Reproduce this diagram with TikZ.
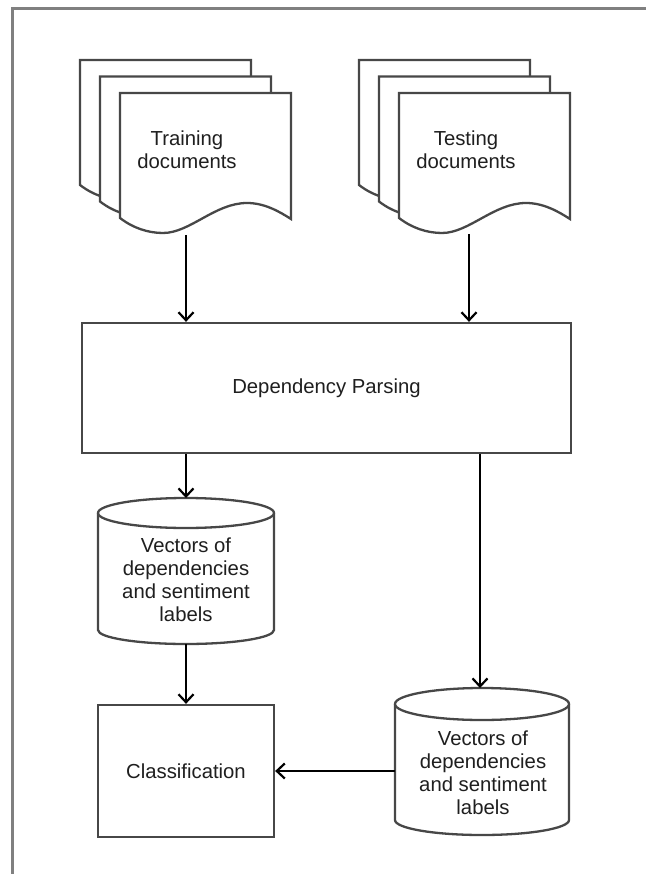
\documentclass[tikz,border=0pt]{standalone}
\usepackage{fontspec}
\setmainfont{Liberation Sans}
\usetikzlibrary{arrows.meta}
\begin{document}
\begin{tikzpicture}[x=1pt,y=-1pt,
  shapeline/.style={draw=black!72, line width=2.3pt, fill=white},
  arr/.style={draw=black, line width=2.2pt, -{Straight Barb[length=8pt,width=15pt,line width=2.2pt]}},
  lbl/.style={text=black!88, align=center, font=\fontsize{20.3}{23}\selectfont, inner sep=0pt},
  ghost/.style={inner sep=0pt, outer sep=0pt}]
\useasboundingbox (0,0) rectangle (646,874);
% outer frame (left and top edges)
\draw[black!50, line width=2.2pt] (12.5,874) -- (12.5,8.5) -- (646,8.5);

\newcommand\docpg[2]{%
  \draw[shapeline, shift={(#1,#2)}] (0,0) -- (171,0) -- (171,126)
    .. controls (160,119) and (145,110) .. (127,110)
    .. controls (95,110) and (70,140) .. (43,140)
    .. controls (28,140) and (13,135) .. (0,125) -- cycle;}

% training documents
\docpg{80}{60}
\docpg{100}{76.5}
\docpg{120}{93}
\node[lbl] (train) at (187,150) {Training\\documents};
\coordinate (trainout) at (186,235);

% testing documents
\docpg{359}{60}
\docpg{379}{76.5}
\docpg{399}{93}
\node[lbl] (test) at (466,150) {Testing\\documents};
\coordinate (testout) at (469,234);

% dependency parsing
\node[shapeline, lbl, draw=black!72, minimum width=489pt, minimum height=130pt] (dep) at (326.5,388) {Dependency Parsing};

% cylinder A
\draw[shapeline] (98,513) -- (98,630) arc[start angle=180,end angle=360,x radius=88pt,y radius=14pt] -- (274,513);
\draw[shapeline] (186,513) ellipse[x radius=88pt, y radius=15pt];
\node[ghost, minimum width=176pt, minimum height=146pt] (cylA) at (186,571) {};
\node[lbl] (cylAtext) at (186,580) {Vectors of\\dependencies\\and sentiment\\labels};

% cylinder B
\draw[shapeline] (395,704) -- (395,820) arc[start angle=180,end angle=360,x radius=87pt,y radius=15pt] -- (569,704);
\draw[shapeline] (482,704) ellipse[x radius=87pt, y radius=16pt];
\node[ghost, minimum width=174pt, minimum height=147pt] (cylB) at (482,761.5) {};
\node[lbl] (cylBtext) at (483,772.5) {Vectors of\\dependencies\\and sentiment\\labels};

% classification
\node[shapeline, lbl, draw=black!72, minimum width=176pt, minimum height=132pt] (cls) at (186,771) {Classification};

% connectors
\draw[arr] (trainout) -- (trainout |- dep.north);
\draw[arr] (testout) -- (testout |- dep.north);
\draw[arr] (dep.south -| cylA.north) -- (cylA.north);
\draw[arr] (dep.south -| 480,0) -- (cylB.north -| 480,0);
\draw[arr] (cylA.south) -- (cls.north);
\draw[arr] (cls.east -| cylB.west) -- (cls.east);
\end{tikzpicture}
\end{document}
